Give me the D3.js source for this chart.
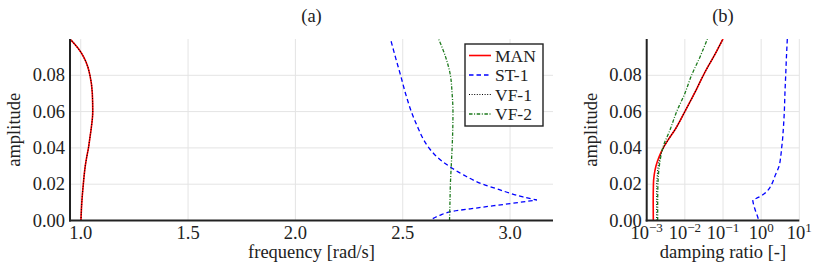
<html>
<head>
<meta charset="utf-8">
<script src="https://d3js.org/d3.v7.min.js"></script>
<style>
  body { margin: 0; background: #fff; }
</style>
</head>
<body>
<svg id="chart" width="822" height="276" font-family="'Liberation Serif', 'Times New Roman', 'DejaVu Serif', serif"></svg>
<script>
// amplitude values (shared y) and series
const manAmp  = [0, 0.01, 0.02, 0.025, 0.03, 0.035, 0.04, 0.045, 0.05, 0.06, 0.07, 0.08, 0.085, 0.09, 0.095, 0.1];
const manFreq = [1.001, 1.005, 1.012, 1.016, 1.021, 1.028, 1.036, 1.042, 1.048, 1.056, 1.054, 1.043, 1.032, 1.014, 0.987, 0.95];
const manDamp = [1.49e-3, 1.48e-3, 1.5e-3, 1.57e-3, 1.75e-3, 2.1e-3, 2.72e-3, 3.8e-3, 5.5e-3, 0.0100, 0.0178, 0.0305, 0.041, 0.056, 0.075, 0.1];

const vf1Amp  = manAmp;
const vf1Freq = manFreq;
const vf1Damp = [1.83e-3, 1.83e-3, 1.84e-3, 1.9e-3, 2.0e-3, 2.25e-3, 2.75e-3, 3.8e-3, 5.5e-3, 0.0100, 0.0178, 0.0305, 0.041, 0.056, 0.075, 0.1];

const vf2Amp  = [0, 0.01, 0.02, 0.03, 0.035, 0.04, 0.05, 0.06, 0.07, 0.08, 0.09, 0.1];
const vf2Freq = [2.718, 2.720, 2.722, 2.726, 2.728, 2.730, 2.733, 2.734, 2.730, 2.722, 2.700, 2.667];
const vf2Damp = [1.94e-3, 1.94e-3, 1.97e-3, 2.14e-3, 2.33e-3, 2.63e-3, 4.1e-3, 6.1e-3, 0.0100, 0.015, 0.0248, 0.039];

// ST-1 turns back at its 6th point (peak frequency / damping kink)
const st1Amp  = [0.001, 0.003, 0.005, 0.007, 0.009, 0.0113, 0.013, 0.015, 0.017, 0.02, 0.025, 0.03, 0.035, 0.04, 0.045, 0.05, 0.06, 0.07, 0.08, 0.09, 0.1];
const st1Freq = [2.64, 2.675, 2.73, 2.85, 2.98, 3.125, 3.06, 3.0, 2.95, 2.873, 2.785, 2.715, 2.66, 2.622, 2.595, 2.575, 2.54, 2.513, 2.49, 2.466, 2.443];
const st1Damp = [0.84, 0.78, 0.72, 0.67, 0.63, 0.60, 0.9, 1.25, 1.55, 1.89, 2.35, 2.95, 3.25, 3.45, 3.65, 3.8, 4.05, 4.2, 4.4, 4.6, 4.85];
const st1Turn = 5;

const ampTicks  = [0, 0.02, 0.04, 0.06, 0.08];
const freqTicks = [1.0, 1.5, 2.0, 2.5, 3.0];
const dampTicks = [-3, -2, -1, 0, 1];

const series = [
  {name: "MAN",  amp: manAmp, freq: manFreq, damp: manDamp, color: "#ff0000", dash: null,      width: 1.6},
  {name: "ST-1", amp: st1Amp, freq: st1Freq, damp: st1Damp, color: "#0000ff", dash: "4.5,3",   width: 1.3, turn: st1Turn},
  {name: "VF-1", amp: vf1Amp, freq: vf1Freq, damp: vf1Damp, color: "#000000", dash: "1,1.6",   width: 1.1},
  {name: "VF-2", amp: vf2Amp, freq: vf2Freq, damp: vf2Damp, color: "#1d7a1d", dash: "3.5,1.6,1,1.6", width: 1.3}
];

const svg = d3.select("#chart");
const yTop = 39, yBot = 220.5;
const FS = 18.5;
const ys = d3.scaleLinear().domain([0, 0.1]).range([yBot, yTop]);
const xa = d3.scaleLinear().domain([0.95, 3.2]).range([70, 553]);
const xb = d3.scaleLog().domain([1e-3, 1e1]).range([646.7, 799.3]);

function panel(id, xs, xTicks, xVal, title, xlabel, labelFmt) {
  const g = svg.append("g");
  const [x0, x1] = xs.range();
  g.append("clipPath").attr("id", id)
    .append("rect").attr("x", x0).attr("y", yTop).attr("width", x1 - x0).attr("height", yBot - yTop);

  // grid
  g.selectAll(".gy").data(ampTicks.slice(1)).enter().append("line")
    .attr("x1", x0).attr("x2", x1).attr("y1", d => ys(d)).attr("y2", d => ys(d))
    .attr("stroke", "#e4e4e4").attr("stroke-width", 1);
  g.selectAll(".gx").data(xTicks).enter().append("line")
    .attr("x1", d => xs(xVal(d))).attr("x2", d => xs(xVal(d))).attr("y1", yTop).attr("y2", yBot)
    .attr("stroke", "#e4e4e4").attr("stroke-width", 1);

  // curves (amplitude is monotone along each branch, so interpolate x as a function of y)
  const lines = g.append("g").attr("clip-path", "url(#" + id + ")");
  const line = d3.line().x(d => xs(d[0])).y(d => ys(d[1])).curve(d3.curveMonotoneY);
  series.forEach(s => {
    const vals = id === "clipA" ? s.freq : s.damp;
    const pts = s.amp.map((a, i) => [vals[i], a]);
    const parts = s.turn ? [pts.slice(0, s.turn + 1), pts.slice(s.turn)] : [pts];
    const d = parts.map((p, k) => {
      const str = line(p);
      return k === 0 ? str : "L" + str.slice(1);
    }).join("");
    lines.append("path").attr("d", d).attr("fill", "none")
      .attr("stroke", s.color).attr("stroke-width", s.width)
      .attr("stroke-dasharray", s.dash);
  });

  // axes lines
  g.append("line").attr("x1", x0).attr("x2", x0).attr("y1", yTop).attr("y2", yBot + 1)
    .attr("stroke", "#222").attr("stroke-width", 2);
  g.append("line").attr("x1", x0 - 1).attr("x2", x1).attr("y1", yBot).attr("y2", yBot)
    .attr("stroke", "#222").attr("stroke-width", 2);

  // y tick labels
  g.selectAll(".ty").data(ampTicks).enter().append("text")
    .attr("x", x0 - 5).attr("y", d => ys(d) + 6)
    .attr("text-anchor", "end").attr("font-size", FS).attr("fill", "#222")
    .text(d => d.toFixed(2));

  // x tick labels
  g.selectAll(".tx").data(xTicks).enter().append("text")
    .attr("x", d => xs(xVal(d))).attr("y", 239)
    .attr("text-anchor", "middle").attr("font-size", FS).attr("fill", "#222")
    .each(function(d) { labelFmt(d3.select(this), d); });

  g.append("text").attr("x", (x0 + x1) / 2).attr("y", 22)
    .attr("text-anchor", "middle").attr("font-size", FS).attr("fill", "#222").text(title);
  g.append("text").attr("x", (x0 + x1) / 2).attr("y", 258)
    .attr("text-anchor", "middle").attr("font-size", FS).attr("fill", "#222").text(xlabel);
  g.append("text").attr("transform", "translate(" + (x0 - 50) + "," + ((yTop + yBot) / 2) + ") rotate(-90)")
    .attr("text-anchor", "middle").attr("font-size", FS).attr("fill", "#222").text("amplitude");
}

panel("clipA", xa, freqTicks, d => d, "(a)", "frequency [rad/s]",
  (t, d) => t.text(d.toFixed(1)));
panel("clipB", xb, dampTicks, d => Math.pow(10, d), "(b)", "damping ratio [-]",
  (t, d) => {
    t.append("tspan").text("10");
    t.append("tspan").attr("dy", -7.5).attr("font-size", 13).text(d < 0 ? "\u2212" + (-d) : d);
  });

// legend
const lg = svg.append("g");
lg.append("rect").attr("x", 465).attr("y", 44).attr("width", 78).attr("height", 82)
  .attr("fill", "#fff").attr("stroke", "#222").attr("stroke-width", 1.4);
series.forEach((s, i) => {
  const y = 55.5 + i * 19.5;
  lg.append("line").attr("x1", 469).attr("x2", 491).attr("y1", y).attr("y2", y)
    .attr("stroke", s.color).attr("stroke-width", s.width).attr("stroke-dasharray", s.dash);
  lg.append("text").attr("x", 495).attr("y", y + 6).attr("font-size", 17.5).attr("fill", "#222").text(s.name);
});
</script>
</body>
</html>
